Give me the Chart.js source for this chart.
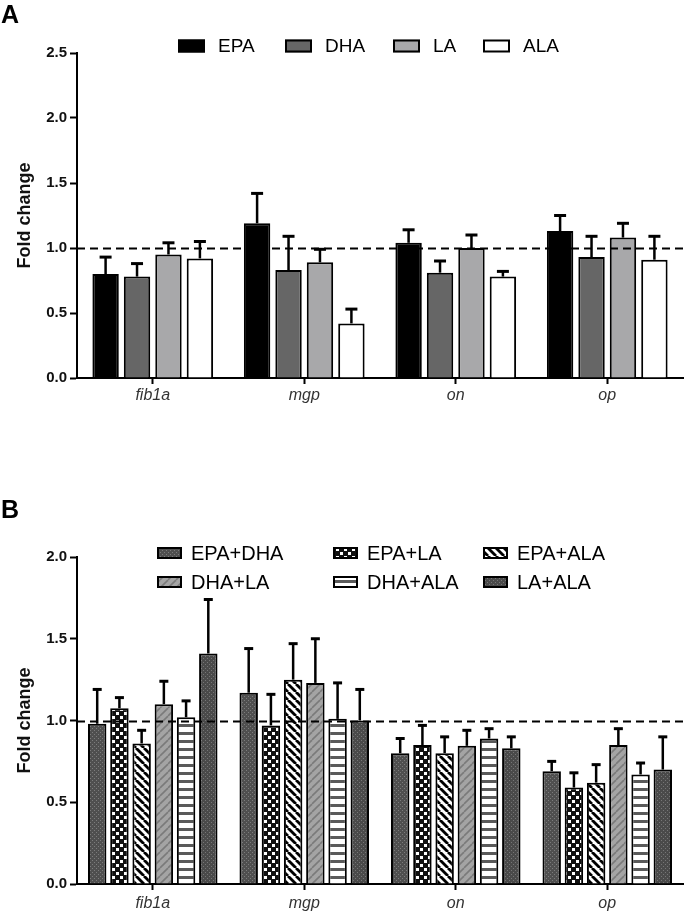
<!DOCTYPE html>
<html>
<head>
<meta charset="utf-8">
<script src="https://cdn.jsdelivr.net/npm/chart.js@4.4.0/dist/chart.umd.min.js"></script>
<style>
  body { margin: 0; background: #fff; width: 689px; height: 913px; position: relative; overflow: hidden; }
  .panel { position: absolute; left: 0; width: 689px; }
  #wrapA { top: 0; height: 420px; }
  #wrapB { top: 420px; height: 493px; }
  .tag { position: absolute; left: 1px; font: bold 25px 'Liberation Sans', Arial, sans-serif; line-height: 25px; color: #000; }
</style>
</head>
<body>
<div class="panel" id="wrapA"><canvas id="chartA" width="689" height="420"></canvas></div>
<div class="panel" id="wrapB"><canvas id="chartB" width="689" height="493"></canvas></div>
<div class="tag" style="top:2px">A</div>
<div class="tag" style="top:497px">B</div>
<script>
const genes = ['fib1a', 'mgp', 'on', 'op'];

// panel A - single fatty acids (mean, SEM)
const epa = [0.80, 1.19, 1.04, 1.13];
const epaErr = [0.13, 0.23, 0.10, 0.12];
const dha = [0.78, 0.83, 0.81, 0.93];
const dhaErr = [0.10, 0.26, 0.09, 0.16];
const la = [0.95, 0.89, 1.00, 1.08];
const laErr = [0.09, 0.10, 0.10, 0.11];
const ala = [0.92, 0.42, 0.78, 0.91];
const alaErr = [0.13, 0.11, 0.04, 0.18];

// panel B - combinations
const epaDha = [0.98, 1.17, 0.80, 0.69];
const epaDhaErr = [0.21, 0.27, 0.09, 0.06];
const epaLa = [1.075, 0.97, 0.85, 0.59];
const epaLaErr = [0.065, 0.19, 0.12, 0.09];
const epaAla = [0.86, 1.25, 0.80, 0.62];
const epaAlaErr = [0.08, 0.22, 0.10, 0.11];
const dhaLa = [1.10, 1.23, 0.845, 0.85];
const dhaLaErr = [0.14, 0.27, 0.095, 0.10];
const dhaAla = [1.02, 1.01, 0.89, 0.67];
const dhaAlaErr = [0.10, 0.22, 0.06, 0.07];
const laAla = [1.41, 1.00, 0.83, 0.70];
const laAlaErr = [0.33, 0.19, 0.07, 0.20];

const ticksA = [0, 0.5, 1.0, 1.5, 2.0, 2.5];
const ticksB = [0, 0.5, 1.0, 1.5, 2.0];

// little tiles for the hatched bars in B
function makePattern(w, h, draw) {
  const c = document.createElement('canvas');
  c.width = w; c.height = h;
  const g = c.getContext('2d');
  draw(g, w, h);
  return g.createPattern(c, 'repeat');
}
const dotted = makePattern(4, 4, (g) => {
  g.fillStyle = '#4f4f4f'; g.fillRect(0, 0, 4, 4);
  g.fillStyle = '#7c7c7c'; g.fillRect(0, 0, 1, 1); g.fillRect(2, 2, 1, 1);
});
const dotted2 = makePattern(4, 4, (g) => {
  g.fillStyle = '#4a4a4a'; g.fillRect(0, 0, 4, 4);
  g.fillStyle = '#767676'; g.fillRect(1, 0, 1, 1); g.fillRect(3, 2, 1, 1);
});
const checker = makePattern(8, 8, (g) => {
  g.fillStyle = '#111'; g.fillRect(0, 0, 8, 8);
  g.fillStyle = '#fff'; g.fillRect(0, 0, 3, 3); g.fillRect(4, 4, 3, 3);
});
const backslash = makePattern(8, 8, (g) => {
  g.fillStyle = '#fff'; g.fillRect(0, 0, 8, 8);
  g.strokeStyle = '#000'; g.lineWidth = 2.8;
  for (let k = -1; k <= 1; k++) { g.beginPath(); g.moveTo(k * 8, 0); g.lineTo(k * 8 + 8, 8); g.stroke(); }
});
const slashGray = makePattern(8, 8, (g) => {
  g.fillStyle = '#a4a4a4'; g.fillRect(0, 0, 8, 8);
  g.strokeStyle = '#7a7a7a'; g.lineWidth = 1.6;
  for (let k = -1; k <= 1; k++) { g.beginPath(); g.moveTo(k * 8, 8); g.lineTo(k * 8 + 8, 0); g.stroke(); }
});
const hlines = makePattern(8, 8, (g) => {
  g.fillStyle = '#fff'; g.fillRect(0, 0, 8, 8);
  g.fillStyle = '#5a5a5a'; g.fillRect(0, 0, 8, 3);
});

const refLine = {
  id: 'refLine',
  afterDatasetsDraw(chart) {
    const { ctx, chartArea } = chart;
    const y = Math.round(chart.scales.y.getPixelForValue(1)) + 0.5;
    ctx.save();
    ctx.strokeStyle = '#000';
    ctx.lineWidth = 2;
    ctx.setLineDash([8, 5]);
    ctx.beginPath();
    ctx.moveTo(chartArea.left, y);
    ctx.lineTo(chartArea.right, y);
    ctx.stroke();
    ctx.restore();
  }
};

const errorBars = {
  id: 'errorBars',
  afterDatasetsDraw(chart, args, opts) {
    const ctx = chart.ctx;
    const yScale = chart.scales.y;
    ctx.save();
    ctx.strokeStyle = '#000';
    ctx.lineWidth = opts.width;
    chart.data.datasets.forEach((ds, i) => {
      chart.getDatasetMeta(i).data.forEach((bar, j) => {
        const top = yScale.getPixelForValue(ds.data[j] + ds.errors[j]);
        ctx.beginPath();
        ctx.moveTo(bar.x, bar.y);
        ctx.lineTo(bar.x, top);
        ctx.stroke();
        ctx.lineWidth = opts.capWidth;
        ctx.beginPath();
        ctx.moveTo(bar.x - opts.cap, top);
        ctx.lineTo(bar.x + opts.cap, top);
        ctx.stroke();
        ctx.lineWidth = opts.width;
      });
    });
    ctx.restore();
  }
};

// legend drawn by hand so it can sit off-centre like the original
const boxLegend = {
  id: 'boxLegend',
  afterDraw(chart, args, opts) {
    const ctx = chart.ctx;
    ctx.save();
    ctx.font = opts.font;
    ctx.textBaseline = 'middle';
    chart.data.datasets.forEach((ds, i) => {
      const [x, y] = opts.spots[i];
      ctx.fillStyle = ds.backgroundColor;
      ctx.fillRect(x, y - opts.boxH / 2, opts.boxW, opts.boxH);
      ctx.lineWidth = 2;
      ctx.strokeStyle = '#000';
      ctx.strokeRect(x + 1, y - opts.boxH / 2 + 1, opts.boxW - 2, opts.boxH - 2);
      ctx.fillStyle = '#000';
      ctx.fillText(ds.label, x + opts.textOff, y + 1);
    });
    ctx.restore();
  }
};

function barSet(label, data, errors, fill) {
  return { label, data, errors, backgroundColor: fill, borderColor: '#000', borderWidth: 2 };
}

function makeOptions(yMax, yTicks, xHeight, labelPad, catPct, barPct, errOpts, legendOpts, padTop) {
  return {
    responsive: false,
    animation: false,
    datasets: { bar: { categoryPercentage: catPct, barPercentage: barPct } },
    layout: { padding: { top: padTop, right: 6, left: 0, bottom: 0 } },
    scales: {
      x: {
        offset: true,
        grid: { offset: false, drawOnChartArea: false, tickLength: 6, tickWidth: 2, tickColor: '#000' },
        border: { color: '#000', width: 2 },
        ticks: { color: '#333', padding: labelPad, font: { family: "'Liberation Sans', Arial, sans-serif", size: 16, style: 'italic' } },
        afterFit: (s) => { s.height = xHeight; }
      },
      y: {
        min: 0,
        max: yMax,
        afterBuildTicks: (s) => { s.ticks = yTicks.map(v => ({ value: v })); },
        grid: { drawOnChartArea: false, tickLength: 7, tickWidth: 2, tickColor: '#000' },
        border: { color: '#000', width: 2 },
        ticks: {
          color: '#111', padding: 3,
          font: { family: "'Liberation Sans', Arial, sans-serif", size: 15, weight: 'bold' },
          callback: (v) => v.toFixed(1)
        },
        title: {
          display: true, text: 'Fold change', color: '#111',
          padding: { top: 14, bottom: 0 },
          font: { family: "'Liberation Sans', Arial, sans-serif", size: 18, weight: 'bold' }
        },
        afterFit: (s) => { s.width = 77; }
      }
    },
    plugins: {
      legend: { display: false },
      tooltip: { enabled: false },
      errorBars: errOpts,
      boxLegend: legendOpts
    }
  };
}

new Chart('chartA', {
  type: 'bar',
  data: {
    labels: genes,
    datasets: [
      barSet('EPA', epa, epaErr, '#000'),
      barSet('DHA', dha, dhaErr, '#666666'),
      barSet('LA', la, laErr, '#a8a8aa'),
      barSet('ALA', ala, alaErr, '#fff')
    ]
  },
  options: makeOptions(2.5, ticksA, 42, 2, 0.83, 0.84,
    { width: 2.5, capWidth: 3, cap: 6 },
    { font: "19px 'Liberation Sans', Arial, sans-serif", boxW: 27, boxH: 13, textOff: 40,
      spots: [[178, 46], [285, 46], [393, 46], [483, 46]] },
    53),
  plugins: [refLine, errorBars, boxLegend]
});

new Chart('chartB', {
  type: 'bar',
  data: {
    labels: genes,
    datasets: [
      barSet('EPA+DHA', epaDha, epaDhaErr, dotted),
      barSet('EPA+LA', epaLa, epaLaErr, checker),
      barSet('EPA+ALA', epaAla, epaAlaErr, backslash),
      barSet('DHA+LA', dhaLa, dhaLaErr, slashGray),
      barSet('DHA+ALA', dhaAla, dhaAlaErr, hlines),
      barSet('LA+ALA', laAla, laAlaErr, dotted2)
    ]
  },
  options: makeOptions(2.0, ticksB, 29, 4, 0.88, 0.83,
    { width: 2.5, capWidth: 3, cap: 4.5 },
    { font: "20px 'Liberation Sans', Arial, sans-serif", boxW: 25, boxH: 12, textOff: 34,
      spots: [[157, 133], [333, 133], [483, 133], [157, 162], [333, 162], [483, 162]] },
    137),
  plugins: [refLine, errorBars, boxLegend]
});
</script>
</body>
</html>
